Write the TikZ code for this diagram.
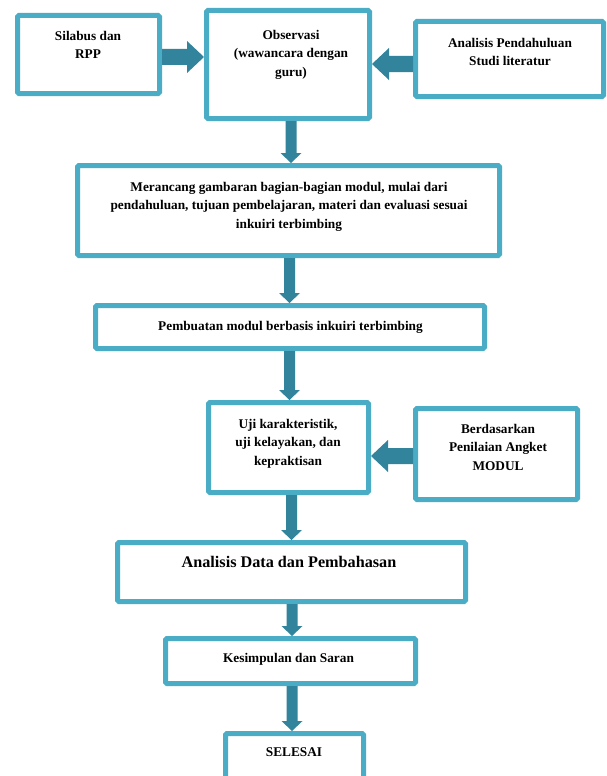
\documentclass[tikz,border=0pt]{standalone}
\usepackage{fontspec}
\setmainfont{Liberation Serif}
\usetikzlibrary{calc}
\definecolor{boxblue}{HTML}{4BACC6}
\definecolor{arrteal}{HTML}{31849B}
\newcommand{\vblock}[2]{%
  \fill[arrfill] let \p1=(#1), \p2=(#2) in
    (\x1-5.5pt,\y1) -- (\x1+5.5pt,\y1) -- (\x1+5.5pt,\y2+10pt) -- (\x1+10.5pt,\y2+10pt)
    -- (\x1,\y2) -- (\x1-10.5pt,\y2+10pt) -- (\x1-5.5pt,\y2+10pt) -- cycle;}
\newcommand{\rblock}[2]{%
  \fill[arrfill] let \p1=(#1), \p2=(#2) in
    (\x1,\y1+8pt) -- (\x2-17pt,\y1+8pt) -- (\x2-17pt,\y1+16pt) -- (\x2,\y1)
    -- (\x2-17pt,\y1-16pt) -- (\x2-17pt,\y1-8pt) -- (\x1,\y1-8pt) -- cycle;}
\newcommand{\lblock}[2]{%
  \fill[arrfill] let \p1=(#1), \p2=(#2) in
    (\x1,\y1+8pt) -- (\x2+17pt,\y1+8pt) -- (\x2+17pt,\y1+16pt) -- (\x2,\y1)
    -- (\x2+17pt,\y1-16pt) -- (\x2+17pt,\y1-8pt) -- (\x1,\y1-8pt) -- cycle;}
\begin{document}
\begin{tikzpicture}[x=1pt,y=-1pt,
  box/.style 2 args={draw=boxblue, line width=5pt, fill=white, rounded corners=1.5pt,
    inner sep=0pt, outer sep=2.5pt, minimum width=#1, minimum height=#2},
  arrfill/.style={fill=arrteal},
  txt/.style={font=\fontsize{13.3pt}{18.3pt}\selectfont\bfseries, align=center, inner sep=0pt},
  bigtxt/.style={font=\fontsize{16.2pt}{20pt}\selectfont\bfseries, align=center, inner sep=0pt}]
\clip (0,0) rectangle (607,776);
\fill[white] (0,0) rectangle (607,776);
% boxes
\node[box={142pt}{78pt}]  (b1)  at (88.5,54.5) {};
\node[box={163pt}{108pt}] (b2)  at (288,64.5) {};
\node[box={188pt}{75pt}]  (b3)  at (509.5,59) {};
\node[box={422pt}{90pt}]  (b4)  at (288.5,210.5) {};
\node[box={389pt}{43pt}]  (b5)  at (290,327) {};
\node[box={160pt}{90pt}]  (b6)  at (288.5,447.5) {};
\node[box={162pt}{91pt}]  (b7)  at (496.5,454) {};
\node[box={348pt}{59pt}]  (b8)  at (291.5,572) {};
\node[box={250pt}{45pt}]  (b9)  at (290.5,661) {};
\node[box={138pt}{64pt}]  (b10) at (294.5,765.5) {};
% texts
\node[txt, anchor=north] (t1) at (88,31) {Silabus dan\\RPP};
\node[txt, anchor=north] (t2) at (291,30) {Observasi\\(wawancara dengan\\guru)};
\node[txt, anchor=north] (t3) at (510,38) {Analisis Pendahuluan\\Studi literatur};
\node[txt, anchor=north] (t4) at (289,182) {Merancang gambaran bagian-bagian modul, mulai dari\\pendahuluan, tujuan pembelajaran, materi dan evaluasi sesuai\\inkuiri terbimbing};
\node[txt] (t5) at (290.5,327) {Pembuatan modul berbasis inkuiri terbimbing};
\node[txt, anchor=north] (t6) at (288,419) {Uji karakteristik,\\uji kelayakan, dan\\kepraktisan};
\node[txt, anchor=north] (t7) at (498,424) {Berdasarkan\\Penilaian Angket\\MODUL};
\node[bigtxt, anchor=north] (t8) at (289,556) {Analisis Data dan Pembahasan};
\node[txt] (t9) at (288.5,659) {Kesimpulan dan Saran};
\node[txt, anchor=north] (t10) at (294,747) {SELESAI};
% arrows
\rblock{[yshift=-2.5pt]b1.east}{b2.west}
\lblock{[yshift=-5pt]b3.west}{b2.east}
\lblock{[yshift=-2pt]b7.west}{b6.east}
\vblock{[xshift=3pt]b2.south}{b4.north}
\vblock{[xshift=1pt]b4.south}{b5.north}
\vblock{[xshift=-0.5pt]b5.south}{b6.north}
\vblock{[xshift=3pt]b6.south}{b8.north}
\vblock{[xshift=0.5pt]b8.south}{b9.north}
\vblock{[xshift=1.5pt]b9.south}{b10.north}
\end{tikzpicture}
\end{document}
